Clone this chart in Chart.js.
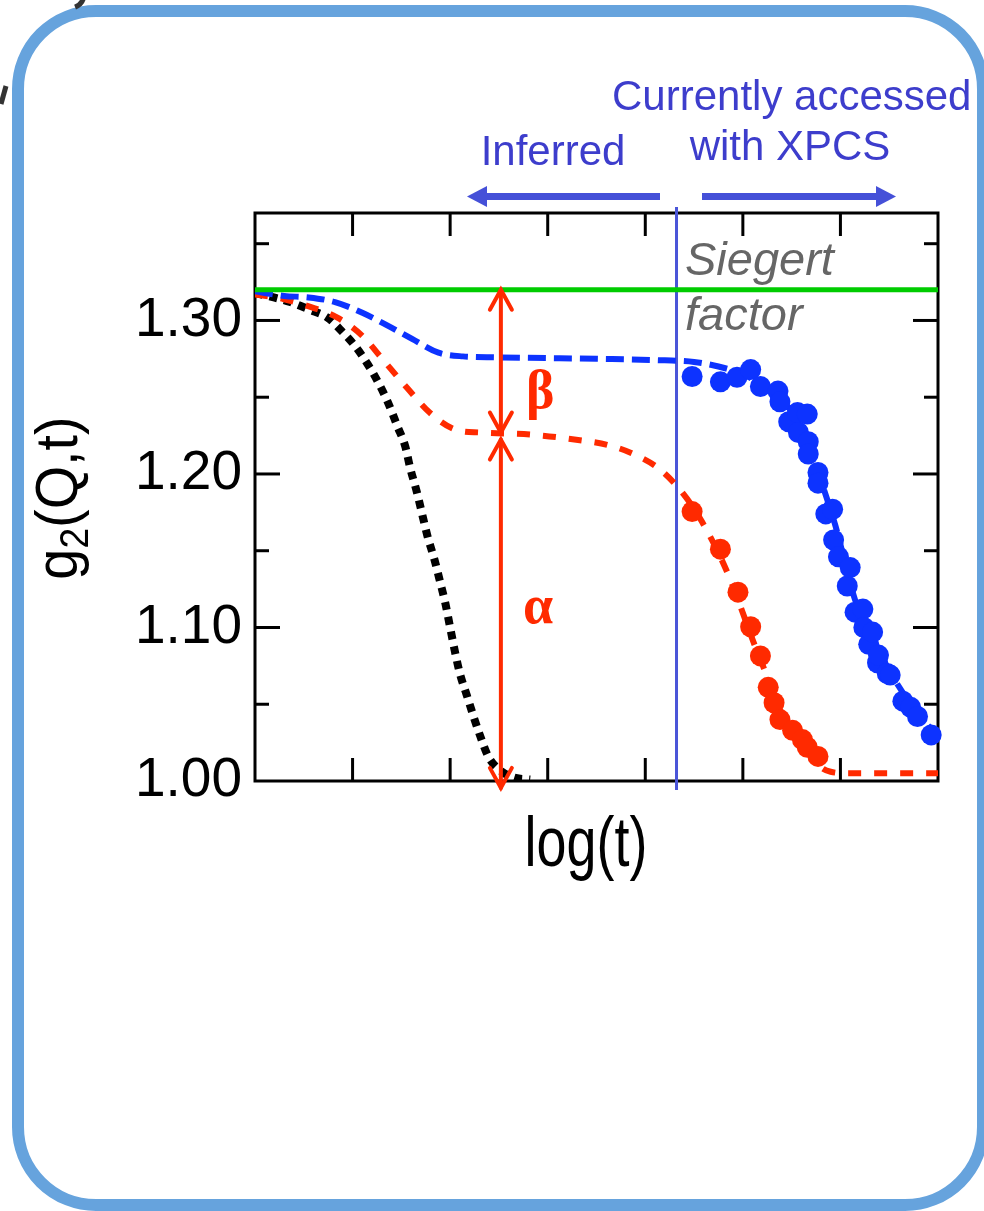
<!DOCTYPE html>
<html>
<head>
<meta charset="utf-8">
<script src="https://cdn.jsdelivr.net/npm/chart.js@4"></script>
<style>
  html, body { margin: 0; padding: 0; background: #fff; }
  #g2Chart { display: block; }
</style>
</head>
<body>
<canvas id="g2Chart" width="984" height="1211"></canvas>
<script>
// axes
const xMin = 0, xMax = 7;
const yMin = 1.0, yMax = 1.37;
const yTickLabels = ['1.00', '1.10', '1.20', '1.30'];
const siegert = 1.32;
const xpcsLimit = 4.32;   // blue vertical line: left = inferred, right = XPCS

// measured points (XPCS window)
const blueX = [4.48, 4.77, 4.94, 5.08, 5.18, 5.36, 5.38, 5.47, 5.56, 5.57, 5.66, 5.67, 5.67, 5.77, 5.77, 5.85, 5.92,
               5.93, 5.98, 6.07, 6.10, 6.15, 6.23, 6.24, 6.29, 6.33, 6.38, 6.39, 6.48, 6.51, 6.64, 6.72, 6.79, 6.93];
const blueY = [1.2635, 1.260, 1.263, 1.268, 1.257, 1.254, 1.247, 1.234, 1.240, 1.227, 1.239, 1.221, 1.213, 1.201, 1.194, 1.174, 1.177,
               1.157, 1.146, 1.127, 1.139, 1.110, 1.112, 1.100, 1.089, 1.097, 1.077, 1.082, 1.070, 1.069, 1.052, 1.048, 1.042, 1.030];
const redX = [4.48, 4.77, 4.95, 5.08, 5.18, 5.26, 5.32, 5.38, 5.51, 5.61, 5.66, 5.77];
const redY = [1.1755, 1.151, 1.123, 1.1005, 1.0815, 1.061, 1.051, 1.040, 1.033, 1.027, 1.022, 1.016];

// fit curves
const blueFitX = [0, 0.3, 0.55, 0.82, 1.1, 1.35, 1.61, 1.88, 2.13, 2.47, 3.5, 4.2, 4.5, 4.75, 5.0, 5.2, 5.4, 5.55, 5.7, 5.82, 5.95, 6.15, 6.3, 6.5, 6.7, 6.9, 7.0];
const blueFitY = [1.319, 1.316, 1.315, 1.312, 1.305, 1.297, 1.288, 1.279, 1.2766, 1.276, 1.275, 1.274, 1.273, 1.270, 1.265, 1.258, 1.248, 1.236, 1.215, 1.192, 1.166, 1.118, 1.097, 1.072, 1.052, 1.036, 1.030];
const redFitX = [0, 0.29, 0.56, 0.84, 1.1, 1.33, 1.56, 1.79, 2.05, 2.31, 2.82, 3.33, 3.61, 3.88, 4.15, 4.39, 4.58, 4.84, 5.13, 5.23, 5.35, 5.5, 5.65, 5.8, 5.9, 6.1, 7.0];
const redFitY = [1.317, 1.314, 1.309, 1.302, 1.290, 1.273, 1.256, 1.240, 1.229, 1.227, 1.2257, 1.222, 1.219, 1.213, 1.203, 1.187, 1.169, 1.136, 1.087, 1.071, 1.050, 1.035, 1.020, 1.009, 1.006, 1.005, 1.005];
const blackFitX = [0, 0.36, 0.56, 0.74, 0.89, 1.03, 1.16, 1.26, 1.36, 1.46, 1.54, 1.59, 1.66, 1.72, 1.77, 1.84, 1.90, 1.95, 2.00, 2.05, 2.10, 2.17, 2.24, 2.31, 2.39, 2.51, 2.67, 2.82];
const blackFitY = [1.318, 1.312, 1.307, 1.302, 1.293, 1.283, 1.271, 1.260, 1.247, 1.231, 1.218, 1.204, 1.188, 1.172, 1.159, 1.144, 1.129, 1.116, 1.100, 1.084, 1.070, 1.056, 1.042, 1.029, 1.016, 1.007, 1.002, 1.001];

// beta / alpha arrow
const arrowX = 2.52;
const betaLow = 1.227;
const alphaTop = 1.2224;
const alphaLow = 0.9955;

const pts = (xs, ys) => xs.map((x, i) => ({ x: x, y: ys[i] }));

const FONT = '"Liberation Sans", Arial, sans-serif';
const BLUE = '#0d33ff';
const RED = '#ff2a00';
const ANNOT = '#3d3dcc';

function line(c, x1, y1, x2, y2) {
    c.beginPath();
    c.moveTo(x1, y1);
    c.lineTo(x2, y2);
    c.stroke();
}

// text squeezed horizontally like the original
function squeezed(c, text, x, y, font, sx, align) {
    c.save();
    c.font = font;
    c.translate(x, y);
    c.scale(sx, 1);
    c.textAlign = align || 'left';
    c.fillText(text, 0, 0);
    c.restore();
}

function openHead(c, x, y, dir) {
    // dir -1 = points up, 1 = points down
    c.beginPath();
    c.moveTo(x - 11, y - dir * 20);
    c.lineTo(x, y);
    c.lineTo(x + 11, y - dir * 20);
    c.stroke();
}

const decor = {
    id: 'decor',
    beforeDraw(chart) {
        const c = chart.ctx;
        c.save();
        c.fillStyle = '#fff';
        c.fillRect(0, 0, chart.width, chart.height);

        // rounded panel frame
        const fx = 18, fy = 11, fw = 965, fh = 1194, r = 78;
        c.strokeStyle = '#66a3dd';
        c.lineWidth = 12;
        c.beginPath();
        c.moveTo(fx + r, fy);
        c.arcTo(fx + fw, fy, fx + fw, fy + fh, r);
        c.arcTo(fx + fw, fy + fh, fx, fy + fh, r);
        c.arcTo(fx, fy + fh, fx, fy, r);
        c.arcTo(fx, fy, fx + fw, fy, r);
        c.closePath();
        c.stroke();

        // bits of neighbouring panel
        c.strokeStyle = '#333';
        c.lineWidth = 5;
        c.beginPath();
        c.arc(70, -6, 14, 0.1, 1.2);
        c.stroke();
        line(c, 6, 86, 1, 104);
        c.restore();
    },
    beforeDatasetsDraw(chart) {
        const c = chart.ctx;
        const { left, right, top, bottom } = chart.chartArea;
        const xs = chart.scales.x, ys = chart.scales.y;
        c.save();
        c.strokeStyle = '#000';
        c.lineWidth = 3;
        c.strokeRect(left, top, right - left, bottom - top);

        xs.ticks.forEach(t => {
            if (t.value <= xMin || t.value >= xMax) return;
            const px = xs.getPixelForValue(t.value);
            line(c, px, bottom, px, bottom - 23);
            line(c, px, top, px, top + 23);
        });
        ys.ticks.forEach(t => {
            if (t.value <= yMin + 1e-6) return;
            const py = ys.getPixelForValue(t.value);
            const major = Math.round(t.value * 100) % 10 === 0;
            const len = major ? 25 : 14;
            line(c, left, py, left + len, py);
            line(c, right, py, right - len, py);
        });

        // XPCS limit
        const vx = xs.getPixelForValue(xpcsLimit);
        c.strokeStyle = '#4a55d8';
        c.lineWidth = 3;
        line(c, vx, top - 6, vx, bottom + 9);
        c.restore();
    },
    afterDatasetsDraw(chart) {
        const c = chart.ctx;
        const xs = chart.scales.x, ys = chart.scales.y;
        c.save();

        // beta and alpha double arrows
        const ax = xs.getPixelForValue(arrowX);
        c.strokeStyle = RED;
        c.lineWidth = 4;
        c.lineCap = 'round';
        const b1 = ys.getPixelForValue(siegert), b2 = ys.getPixelForValue(betaLow);
        const a1 = ys.getPixelForValue(alphaTop), a2 = ys.getPixelForValue(alphaLow);
        line(c, ax, b1, ax, b2);
        openHead(c, ax, b1, -1);
        openHead(c, ax, b2, 1);
        line(c, ax, a1, ax, a2);
        openHead(c, ax, a1, -1);
        openHead(c, ax, a2, 1);

        c.fillStyle = RED;
        c.font = 'bold 54px "Liberation Serif", serif';
        c.textAlign = 'left';
        c.textBaseline = 'alphabetic';
        c.fillText('\u03b2', 526, 408);
        c.fillText('\u03b1', 523, 623);

        // Siegert factor
        c.fillStyle = '#666';
        c.font = 'italic 47px ' + FONT;
        c.fillText('Siegert', 685, 275);
        c.fillText('factor', 685, 330);

        // top annotations
        c.fillStyle = ANNOT;
        squeezed(c, 'Currently accessed', 612, 110, '42px ' + FONT, 1, 'left');
        squeezed(c, 'with XPCS', 790, 160, '42px ' + FONT, 1, 'center');
        squeezed(c, 'Inferred', 553, 165, '42px ' + FONT, 1, 'center');

        c.fillStyle = '#4550d8';
        c.fillRect(485, 193, 175, 7);
        c.beginPath();
        c.moveTo(467, 196.5); c.lineTo(487, 186); c.lineTo(487, 207); c.closePath();
        c.fill();
        c.fillRect(702, 193, 176, 7);
        c.beginPath();
        c.moveTo(896, 196.5); c.lineTo(876, 186); c.lineTo(876, 207); c.closePath();
        c.fill();

        // axis titles
        c.fillStyle = '#000';
        squeezed(c, 'log(t)', 586, 866, '70px ' + FONT, 0.77, 'center');

        c.translate(77, 498);
        c.rotate(-Math.PI / 2);
        c.scale(0.93, 1);
        const big = '60px ' + FONT, small = '40px ' + FONT;
        const parts = [['g', big, 0], ['2', small, 11], ['(Q,t)', big, 0]];
        let total = 0;
        parts.forEach(p => { c.font = p[1]; total += c.measureText(p[0]).width; });
        let px = -total / 2;
        parts.forEach(p => {
            c.font = p[1];
            c.fillText(p[0], px, p[2]);
            px += c.measureText(p[0]).width;
        });
        c.restore();
    }
};

const ctx = document.getElementById('g2Chart');

new Chart(ctx, {
    type: 'scatter',
    data: {
        datasets: [
            {
                data: pts(blueX, blueY),
                backgroundColor: BLUE,
                borderWidth: 0,
                pointRadius: 10.5,
                clip: false,
                order: 0
            },
            {
                data: pts(redX, redY),
                backgroundColor: RED,
                borderWidth: 0,
                pointRadius: 10.5,
                clip: false,
                order: 0
            },
            {
                data: [{ x: xMin, y: siegert }, { x: xMax, y: siegert }],
                showLine: true,
                borderColor: '#00cc00',
                borderWidth: 5,
                pointRadius: 0,
                order: 1
            },
            {
                data: pts(blueFitX, blueFitY),
                showLine: true,
                borderColor: BLUE,
                borderWidth: 6,
                borderDash: [18, 8],
                pointRadius: 0,
                cubicInterpolationMode: 'monotone',
                order: 2
            },
            {
                data: pts(redFitX, redFitY),
                showLine: true,
                borderColor: RED,
                borderWidth: 6,
                borderDash: [13, 13],
                pointRadius: 0,
                cubicInterpolationMode: 'monotone',
                order: 2
            },
            {
                data: pts(blackFitX, blackFitY),
                showLine: true,
                borderColor: '#000',
                borderWidth: 8,
                borderDash: [8, 7],
                pointRadius: 0,
                cubicInterpolationMode: 'monotone',
                order: 2
            }
        ]
    },
    options: {
        responsive: false,
        animation: false,
        layout: {
            padding: { top: 213, right: 46, left: 0, bottom: 0 }
        },
        plugins: {
            legend: { display: false },
            tooltip: { enabled: false }
        },
        scales: {
            x: {
                type: 'linear',
                min: xMin,
                max: xMax,
                ticks: { display: false, stepSize: 1 },
                grid: { display: false, drawTicks: false },
                border: { display: false },
                afterFit(scale) { scale.height = 430; }
            },
            y: {
                type: 'linear',
                min: yMin,
                max: yMax,
                ticks: {
                    stepSize: 0.05,
                    includeBounds: false,
                    autoSkip: false,
                    padding: 13,
                    color: '#000',
                    font: { family: 'Liberation Sans', size: 55 },
                    callback(v) {
                        const s = v.toFixed(2);
                        return yTickLabels.includes(s) ? s : '';
                    }
                },
                grid: { display: false, drawTicks: false },
                border: { display: false },
                afterFit(scale) { scale.width = 255; }
            }
        }
    },
    plugins: [decor]
});
</script>
</body>
</html>
